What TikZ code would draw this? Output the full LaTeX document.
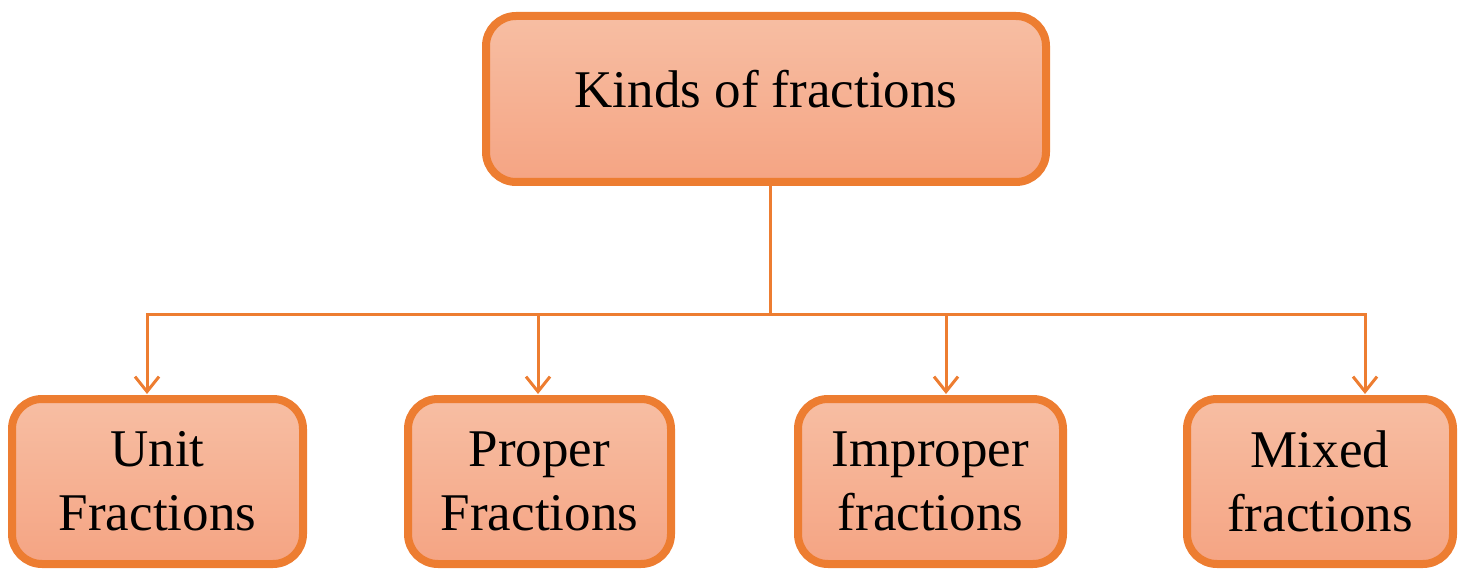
\documentclass[tikz,border=0pt]{standalone}
\usepackage{fontspec}
\setmainfont{Liberation Serif}
\usetikzlibrary{arrows.meta}
\definecolor{edge}{HTML}{ED7D31}
\definecolor{filltop}{HTML}{F7BEA3}
\definecolor{fillbot}{HTML}{F5A483}
\tikzset{
  box/.style={draw=edge, line width=8pt, rounded corners=30pt, top color=filltop, bottom color=fillbot,
    align=center, inner sep=0pt, font=\fontsize{53}{64}\selectfont, text=black},
  conn/.style={draw=edge, line width=3pt},
  arr/.style={conn, -{Straight Barb[length=15pt,width=24pt]}},
}
\begin{document}
\begin{tikzpicture}[x=1pt,y=-1pt]
\useasboundingbox (0,0) rectangle (1461,569);
\node[box, minimum width=560pt, minimum height=166pt, text depth=20pt] (top) at (766,99) {Kinds of fractions};
\node[box, minimum width=291pt, minimum height=165pt] (u) at (157.5,481.5) {Unit\\Fractions};
\node[box, minimum width=263pt, minimum height=165pt] (p) at (539.5,481.5) {Proper\\Fractions};
\node[box, minimum width=265pt, minimum height=165pt] (i) at (930.5,481.5) {Improper\\fractions};
\node[box, minimum width=266pt, minimum height=165pt] (m) at (1320,481.5) {Mixed\\fractions};
\coordinate (s) at (770,186);
\coordinate (j) at (770,314);
\coordinate (tu) at (147,394);
\coordinate (tp) at (538,394);
\coordinate (ti) at (946,394);
\coordinate (tm) at (1365,394);
\draw[conn] (s) -- (j);
\draw[arr] (j) -| (tu);
\draw[arr] (j) -| (tp);
\draw[arr] (j) -| (ti);
\draw[arr] (j) -| (tm);
\end{tikzpicture}
\end{document}
